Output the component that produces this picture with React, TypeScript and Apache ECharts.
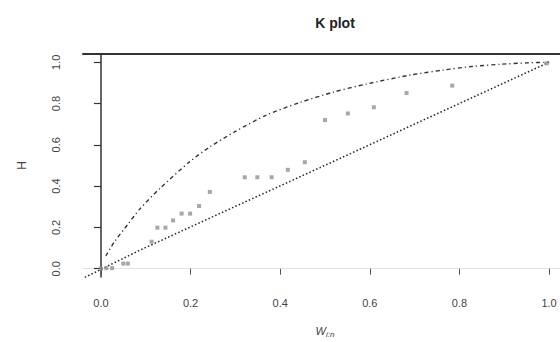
import React, { useEffect, useRef } from "react";
import * as echarts from "echarts";

const tickValues = [0, 0.2, 0.4, 0.6, 0.8, 1.0];

// K-plot points: W_{i:n} (x) and H (y)
const pointW = [0.0, 0.012, 0.025, 0.05, 0.06, 0.113, 0.126, 0.144, 0.161, 0.18, 0.199, 0.219, 0.243, 0.321, 0.349, 0.381, 0.417, 0.455, 0.5, 0.551, 0.609, 0.682, 0.784, 0.995];
const pointH = [0.0, 0.003, 0.003, 0.025, 0.025, 0.131, 0.199, 0.199, 0.234, 0.267, 0.267, 0.304, 0.372, 0.443, 0.443, 0.443, 0.479, 0.516, 0.72, 0.752, 0.782, 0.851, 0.887, 0.995];

// upper reference curve (perfect positive dependence)
const upperW = [0.011, 0.03, 0.06, 0.087, 0.132, 0.199, 0.243, 0.3, 0.37, 0.444, 0.518, 0.593, 0.69, 0.763, 0.83, 0.89, 0.95, 1.0];
const upperH = [0.062, 0.13, 0.215, 0.29, 0.39, 0.52, 0.59, 0.665, 0.745, 0.805, 0.855, 0.895, 0.938, 0.962, 0.98, 0.99, 0.997, 1.0];

// lower reference line (independence)
const lowerW = [-0.036, 0.087, 0.489, 1.0];
const lowerH = [-0.042, 0.09, 0.49, 1.0];

const zip = (a: number[], b: number[]) => a.map((v, i) => [v, b[i]]);

export default function App() {
  const ref = useRef<HTMLDivElement>(null);
  useEffect(() => {
    if (!ref.current) return;
    const chart = echarts.init(ref.current, null, { renderer: "svg" });
    const font = "Liberation Sans, Arial, sans-serif";
    chart.setOption({
      animation: false,
      backgroundColor: "#ffffff",
      title: {
        text: "K plot",
        left: 330,
        top: 11,
        textAlign: "center",
        textStyle: { fontFamily: font, fontSize: 14, fontWeight: "bold", color: "#222" },
      },
      grid: { left: 83, top: 54, width: 484, height: 223, containLabel: false, outerBoundsMode: "none" },
      xAxis: [
        {
          type: "value",
          min: -0.04,
          max: 1.04,
          position: "bottom",
          splitLine: { show: false },
          axisLine: { show: true, lineStyle: { color: "#e2e2e2", width: 1 } },
          axisTick: {
            show: true,
            length: 6,
            customValues: tickValues,
            lineStyle: { color: "#555", width: 1 },
          },
          axisLabel: {
            customValues: tickValues,
            formatter: (v: number) => v.toFixed(1),
            margin: 20,
            fontFamily: font,
            fontSize: 11,
            color: "#444",
          },
          name: "{w|W}{s|i:n}",
          nameLocation: "middle",
          nameGap: 47,
          nameTextStyle: {
            rich: {
              w: { fontFamily: font, fontSize: 11, color: "#444", fontStyle: "italic" },
              s: { fontFamily: font, fontSize: 8, color: "#444", fontStyle: "italic", verticalAlign: "bottom", padding: [6, 0, 0, 0] },
            },
          },
        },
        {
          type: "value",
          min: -0.04,
          max: 1.04,
          position: "top",
          splitLine: { show: false },
          axisLine: { show: true, lineStyle: { color: "#333", width: 2 } },
          axisTick: { show: false },
          axisLabel: { show: false },
        },
      ],
      yAxis: {
        type: "value",
        min: -0.04,
        max: 1.04,
        splitLine: { show: false },
        axisLine: { show: true, lineStyle: { color: "#333", width: 1.5 } },
        axisTick: {
          show: true,
          length: 7,
          customValues: tickValues,
          lineStyle: { color: "#333", width: 1.2 },
        },
        axisLabel: {
          customValues: tickValues,
          formatter: (v: number) => v.toFixed(1),
          rotate: 90,
          margin: 22,
          fontFamily: font,
          fontSize: 11,
          color: "#444",
        },
        name: "H",
        nameLocation: "middle",
        nameRotate: 90,
        nameGap: 55,
        nameTextStyle: { fontFamily: font, fontSize: 12, color: "#444" },
      },
      series: [
        {
          type: "line",
          data: zip(lowerW, lowerH),
          showSymbol: false,
          lineStyle: { color: "#222", width: 1.5, type: [1.5, 2.2] },
          z: 2,
        },
        {
          type: "line",
          data: zip(upperW, upperH),
          showSymbol: false,
          smooth: 0.25,
          lineStyle: { color: "#333", width: 1.4, type: [4, 3, 1.2, 3] },
          z: 2,
        },
        {
          type: "scatter",
          data: zip(pointW, pointH),
          symbol: "rect",
          symbolSize: 4,
          itemStyle: { color: "#919191" },
          z: 3,
        },
      ],
    });
    return () => chart.dispose();
  }, []);
  return (
    <div
      ref={ref}
      style={{ position: "absolute", left: 0, top: 0, width: 560, height: 342 }}
    />
  );
}
